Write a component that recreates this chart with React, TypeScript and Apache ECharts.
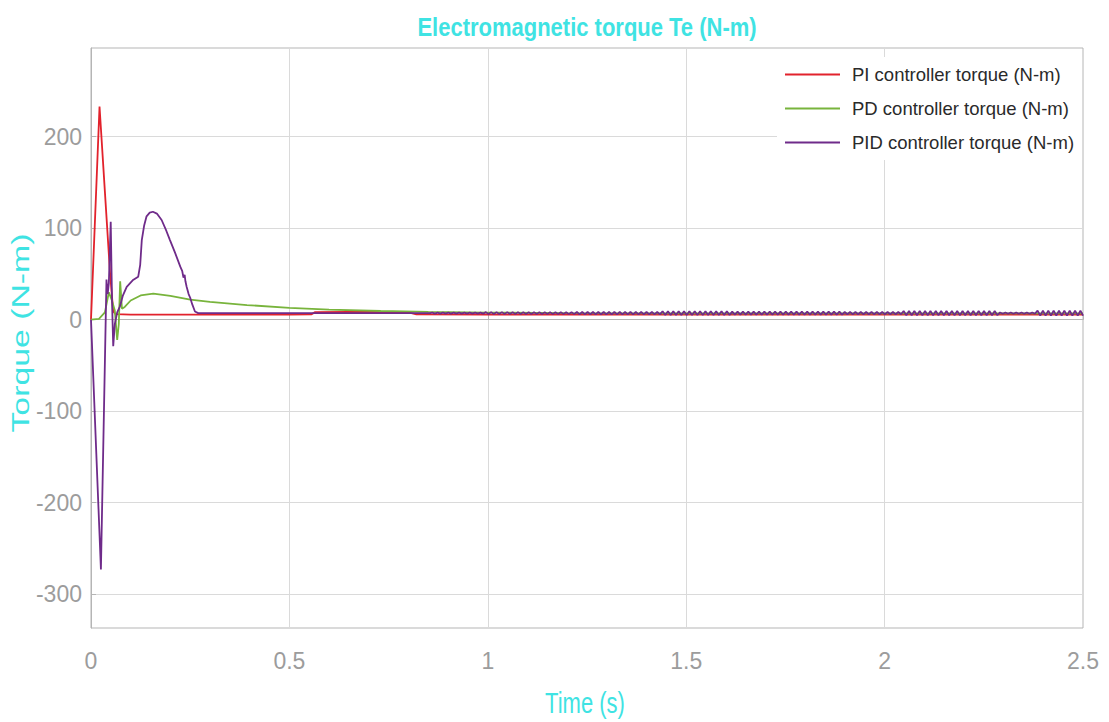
import React, { useEffect, useRef } from "react";
import * as echarts from "echarts";

// ---- data ----
const xTicks = [0, 0.5, 1, 1.5, 2, 2.5];
const yTicks = [-300, -200, -100, 0, 100, 200];

const piTime = [0, 0.0215, 0.035, 0.048, 0.056, 0.062, 0.1, 0.2, 0.3, 0.4, 0.5, 0.555, 0.565, 0.65, 0.72, 0.8, 0.82, 1.0, 1.5, 2.0, 2.5];
const piTorque = [0, 233, 140, 51, 9, 6.0, 5.6, 5.6, 5.5, 5.5, 5.5, 5.8, 8.3, 8.6, 8.4, 8.0, 5.8, 5.5, 5.5, 5.5, 5.5];

const pdTime = [0, 0.02, 0.035, 0.045, 0.052, 0.06, 0.066, 0.07, 0.0735, 0.078, 0.085, 0.1, 0.125, 0.157, 0.2, 0.25, 0.3, 0.393, 0.5, 0.6, 0.73, 0.85, 1.0, 1.2, 1.5, 2.5];
const pdTorque = [0, 1, 8, 30, 22, 10, -22, -5, 42, 12, 14, 21, 26.5, 28.5, 26, 22, 19.5, 16, 13, 11, 9.5, 8.5, 7.8, 7.2, 7.0, 7.0];

const pidTime = [0, 0.025, 0.039, 0.042, 0.045, 0.0497, 0.053, 0.056, 0.06, 0.066, 0.073, 0.08, 0.09, 0.105, 0.119, 0.124, 0.128, 0.134, 0.14, 0.148, 0.156, 0.166, 0.178, 0.19, 0.199, 0.212, 0.225, 0.23, 0.233, 0.236, 0.238, 0.241, 0.246, 0.25, 0.255, 0.262, 0.27, 0.4, 0.6, 0.8, 0.855];
const pidTorque = [0, -273, 44, 28, 40, 107, 20, -29, -5, 8, 14.6, 26, 36, 43, 47, 60, 87, 103, 113, 117, 118, 116, 109, 97, 87, 73, 58, 53, 46, 49, 42, 36, 28, 24, 17, 9, 7.2, 7.2, 7.2, 7.2, 7.2];

// steady-state ripple of the PID trace, sampled every half period from t = 0.86 s
const pidRippleStart = 0.86;
const pidRippleStep = 0.00675;
const pidRipple = [
  7.8, 6.6, 7.8, 6.6, 7.8, 6.6, 7.8, 6.6, 7.8, 6.6, 7.8, 6.6, 7.8, 6.6, 7.8, 6.6, 7.8, 6.6, 7.8, 6.6,
  8.3, 6.1, 8.3, 6.1, 8.3, 6.1, 8.3, 6.1, 8.3, 6.1, 8.3, 6.1, 8.3, 6.1, 8.3, 6.1, 8.3, 6.1, 8.3, 6.1, 8.3, 6.1, 8.3, 6.1, 8.3, 6.1, 8.3, 6.1, 8.3, 6.1, 8.3, 6.1, 8.3, 6.1,
  8.6, 5.8, 8.6, 5.8, 8.6, 5.8, 8.6, 5.8, 8.6, 5.8, 8.6, 5.8, 8.6, 5.8, 8.6, 5.8, 8.6, 5.8, 8.6, 5.8, 8.6, 5.8, 8.6, 5.8, 8.6, 5.8, 8.6, 5.8, 8.6, 5.8, 8.6, 5.8,
  9.2, 5.2, 9.2, 5.2, 9.2, 5.2, 9.2, 5.2, 9.2, 5.2, 9.2, 5.2, 9.2, 5.2, 9.2, 5.2, 9.2, 5.2, 9.2, 5.2, 9.2, 5.2, 9.2, 5.2, 9.2, 5.2,
  8.8, 5.6, 8.8, 5.6, 8.8, 5.6, 8.8, 5.6, 8.8, 5.6, 8.8, 5.6, 8.8, 5.6, 8.8, 5.6, 8.8, 5.6, 8.8, 5.6, 8.8, 5.6, 8.8, 5.6, 8.8, 5.6, 8.8, 5.6, 8.8, 5.6, 8.8, 5.6, 8.8, 5.6, 8.8, 5.6, 8.8, 5.6, 8.8, 5.6, 8.8, 5.6,
  8.4, 6.0, 8.4, 6.0, 8.4, 6.0, 8.4, 6.0, 8.4, 6.0, 8.4, 6.0, 8.4, 6.0, 8.4, 6.0, 8.4, 6.0, 8.4, 6.0, 8.4, 6.0,
  9.4, 5.0, 9.4, 5.0, 9.4, 5.0, 9.4, 5.0, 9.4, 5.0, 9.4, 5.0, 9.4, 5.0, 9.4, 5.0, 9.4, 5.0, 9.4, 5.0, 9.4, 5.0, 9.4, 5.0, 9.4, 5.0, 9.4, 5.0, 9.4, 5.0, 9.4, 5.0, 9.4, 5.0, 9.4, 5.0,
  7.9, 6.5, 7.9, 6.5, 7.9, 6.5, 7.9, 6.5, 7.9, 6.5, 7.9, 6.5, 7.9, 6.5,
  10.0, 4.4, 10.0, 4.4, 10.0, 4.4, 10.0, 4.4, 10.0, 4.4, 10.0, 4.4, 10.0, 4.4, 10.0, 4.4, 10.0, 4.4,
];

const seriesNames = ["PI controller torque (N-m)", "PD controller torque (N-m)", "PID controller torque (N-m)"];
const seriesColors = ["#e2222c", "#78b43c", "#6f2b8a"];

const CYAN = "#3fe3e3";
const SANS = '"Liberation Sans", Arial, sans-serif';

function pairs(t: number[], v: number[]) {
  return t.map((x, i) => [x, v[i]]);
}

export default function App() {
  const ref = useRef<HTMLDivElement>(null);
  useEffect(() => {
    if (!ref.current) return;
    const chart = echarts.init(ref.current, null, { renderer: "svg" });
    const pidData = pairs(pidTime, pidTorque).concat(
      pidRipple.map((v, i) => [pidRippleStart + i * pidRippleStep, v])
    );
    const lineSeries = (name: string, color: string, data: number[][]) => ({
      name,
      type: "line",
      data,
      symbol: "none",
      showSymbol: false,
      lineStyle: { color, width: 1.8 },
      itemStyle: { color },
      clip: true,
    });
    chart.setOption({
      animation: false,
      backgroundColor: "#ffffff",
      grid: { left: 91, right: 26, top: 48, bottom: 94, show: true, borderColor: "#b5b5b5", borderWidth: 1, backgroundColor: "transparent" },
      xAxis: {
        type: "value",
        min: 0,
        max: 2.5,
        interval: 0.5,
        axisLine: { show: true, lineStyle: { color: "#b5b5b5" } },
        axisTick: { show: true, inside: true, length: 5, lineStyle: { color: "#b5b5b5" } },
        axisLabel: { color: "#9c9c9c", fontFamily: SANS, fontSize: 23, margin: 21, customValues: xTicks },
        splitLine: { show: true, lineStyle: { color: "#dadada", width: 1 } },
      },
      yAxis: {
        type: "value",
        min: -337,
        max: 297,
        axisLine: { show: true, lineStyle: { color: "#b5b5b5" } },
        axisTick: { show: true, inside: true, length: 5, customValues: yTicks, lineStyle: { color: "#b5b5b5" } },
        axisLabel: { color: "#9c9c9c", fontFamily: SANS, fontSize: 23, margin: 9, customValues: yTicks },
        splitLine: { show: true, lineStyle: { color: "#dadada", width: 1 } },
      },
      legend: {
        orient: "vertical",
        left: 777,
        top: 57,
        padding: [8, 8, 8, 8],
        itemWidth: 55,
        itemHeight: 2,
        itemGap: 15,
        icon: "rect",
        backgroundColor: "#ffffff",
        textStyle: { color: "#2a2a2a", fontFamily: SANS, fontSize: 18.5, padding: [0, 0, 0, 7] },
        data: seriesNames,
      },
      graphic: [
        {
          type: "text",
          x: 587,
          y: 27,
          scaleY: 1.2,
          style: { text: "Electromagnetic torque Te (N-m)", font: 'bold 22px "Liberation Sans", Arial, sans-serif', fill: CYAN, align: "center", verticalAlign: "middle" },
        },
        {
          type: "text",
          x: 585,
          y: 703,
          scaleY: 1.3,
          style: { text: "Time (s)", font: '22px "Liberation Sans", Arial, sans-serif', fill: CYAN, align: "center", verticalAlign: "middle" },
        },
        {
          type: "text",
          x: 21,
          y: 333,
          rotation: Math.PI / 2,
          scaleX: 1.47,
          style: { text: "Torque (N-m)", font: '23px "Liberation Sans", Arial, sans-serif', fill: CYAN, align: "center", verticalAlign: "middle" },
        },
      ],
      series: [
        lineSeries(seriesNames[0], seriesColors[0], pairs(piTime, piTorque)),
        lineSeries(seriesNames[1], seriesColors[1], pairs(pdTime, pdTorque)),
        lineSeries(seriesNames[2], seriesColors[2], pidData),
      ],
    });
    return () => chart.dispose();
  }, []);
  return <div ref={ref} style={{ position: "absolute", left: 0, top: 0, width: 1109, height: 722 }} />;
}
